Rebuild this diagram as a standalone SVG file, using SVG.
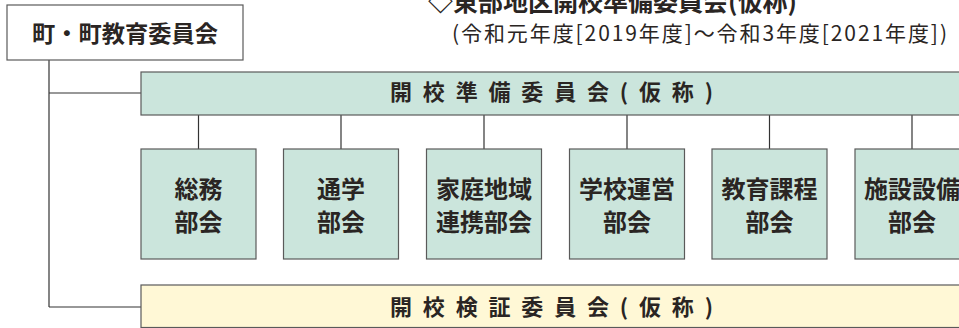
<svg xmlns="http://www.w3.org/2000/svg" width="959" height="328" viewBox="0 0 959 328">
<style>
text{font-family:"Noto Sans CJK JP","Noto Sans",sans-serif;fill:#2a2523}
.b{font-weight:bold}
.box{stroke:#5a5a5a;stroke-width:1.2}
.g{fill:#cbe5dc}
.y{fill:#fff8d6}
.w{fill:#ffffff}
.con line{stroke:#333;stroke-width:1.2}
.sub{font-size:24px;font-weight:bold;text-anchor:middle}
.big{font-size:22px;font-weight:bold}
</style>
<rect width="959" height="328" fill="#ffffff"/>
<g id="title">
<text class="b" x="428" y="11" font-size="25" textLength="369" lengthAdjust="spacingAndGlyphs">◇東部地区開校準備委員会(仮称)</text>
<text x="452" y="41" font-size="21" textLength="495" lengthAdjust="spacing">(令和元年度[2019年度]〜令和3年度[2021年度])</text>
</g>
<g class="con" id="connectors">
<line x1="49" y1="60" x2="49" y2="307"/>
<line x1="49" y1="93" x2="141" y2="93"/>
<line x1="49" y1="307" x2="141" y2="307"/>
<line x1="198.5" y1="115" x2="198.5" y2="149"/>
<line x1="341" y1="115" x2="341" y2="149"/>
<line x1="484" y1="115" x2="484" y2="149"/>
<line x1="627" y1="115" x2="627" y2="149"/>
<line x1="769.5" y1="115" x2="769.5" y2="149"/>
<line x1="912" y1="115" x2="912" y2="149"/>
</g>
<g id="town">
<rect class="box w" x="7" y="5" width="236" height="55"/>
<text class="b" x="125" y="42" font-size="23" text-anchor="middle" textLength="186" lengthAdjust="spacingAndGlyphs">町・町教育委員会</text>
</g>
<g id="prep">
<rect class="box g" x="141" y="72" width="830" height="43"/>
<text class="big" x="390" y="100" textLength="323" lengthAdjust="spacing">開校準備委員会(仮称)</text>
</g>
<g id="sub1">
<rect class="box g" x="141" y="149" width="115" height="110"/>
<text class="sub" x="198.5" y="198">総務</text>
<text class="sub" x="198.5" y="231">部会</text>
</g>
<g id="sub2">
<rect class="box g" x="283.5" y="149" width="115" height="110"/>
<text class="sub" x="341" y="198">通学</text>
<text class="sub" x="341" y="231">部会</text>
</g>
<g id="sub3">
<rect class="box g" x="426.5" y="149" width="115" height="110"/>
<text class="sub" x="484" y="198">家庭地域</text>
<text class="sub" x="484" y="231">連携部会</text>
</g>
<g id="sub4">
<rect class="box g" x="569.5" y="149" width="115" height="110"/>
<text class="sub" x="627" y="198">学校運営</text>
<text class="sub" x="627" y="231">部会</text>
</g>
<g id="sub5">
<rect class="box g" x="712" y="149" width="115" height="110"/>
<text class="sub" x="769.5" y="198">教育課程</text>
<text class="sub" x="769.5" y="231">部会</text>
</g>
<g id="sub6">
<rect class="box g" x="855" y="149" width="115" height="110"/>
<text class="sub" x="912" y="198">施設設備</text>
<text class="sub" x="912" y="231">部会</text>
</g>
<g id="verify">
<rect class="box y" x="141" y="285" width="830" height="42.5"/>
<text class="big" x="390" y="315" textLength="323" lengthAdjust="spacing">開校検証委員会(仮称)</text>
</g>
</svg>
